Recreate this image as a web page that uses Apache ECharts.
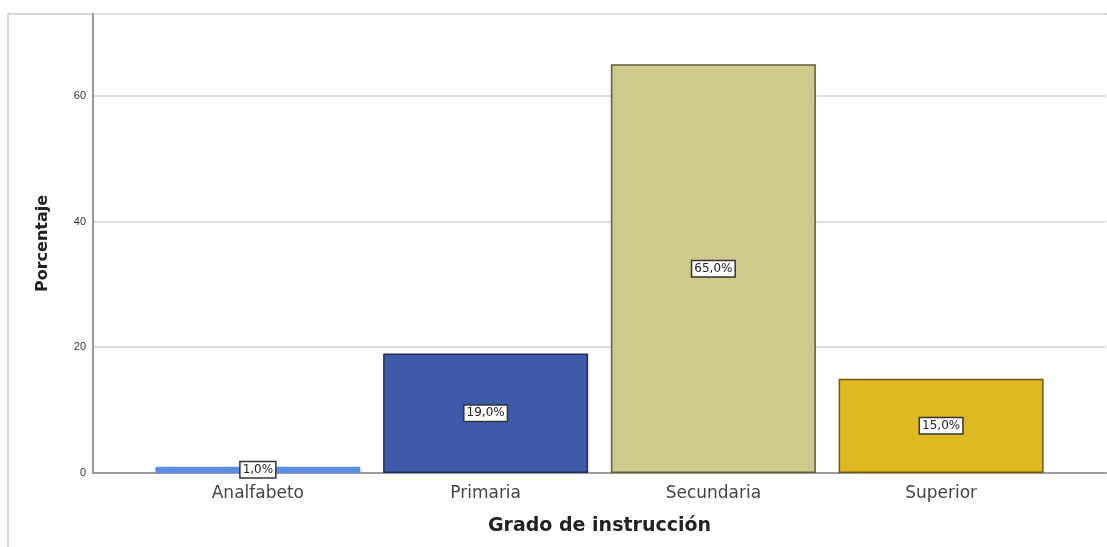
<!DOCTYPE html>
<html>
<head>
<meta charset="utf-8">
<script src="https://cdn.jsdelivr.net/npm/echarts@6/dist/echarts.min.js"></script>
<style>
  html, body { margin: 0; padding: 0; background: #ffffff; }
  #chart { width: 1107px; height: 547px; }
</style>
</head>
<body>
<div id="chart"></div>
<script>
// Grado de instrucción – porcentaje por categoría
const categories = ['Analfabeto', 'Primaria', 'Secundaria', 'Superior'];
const percentages = [1.0, 19.0, 65.0, 15.0];
const barColors = ['#5b8ee0', '#3e5ba9', '#d0c98c', '#dfb921'];
const barBorders = ['#5b8ee0', '#1f2d58', '#5e5c3a', '#6e5a12'];
const yTicks = [0, 20, 40, 60];

const chart = echarts.init(document.getElementById('chart'), null, { renderer: 'canvas' });

const FONT = '"Liberation Sans", Arial, sans-serif';
const WIDE = '"DejaVu Sans", Verdana, sans-serif';
const TOP = 14, BOTTOM = 74, YMAX = 73;

chart.setOption({
  animation: false,
  backgroundColor: '#ffffff',
  graphic: [
    { type: 'line', shape: { x1: 8, y1: 14, x2: 8, y2: 547 }, style: { stroke: '#d6d6d6', lineWidth: 2 }, silent: true },
    { type: 'line', shape: { x1: 8, y1: 14, x2: 1107, y2: 14 }, style: { stroke: '#d6d6d6', lineWidth: 2 }, silent: true }
  ],
  grid: [
    { left: 93, right: 1, top: TOP, bottom: BOTTOM },
    { left: 144, right: 52, top: TOP, bottom: BOTTOM }
  ],
  xAxis: [
    {
      gridIndex: 0, type: 'value', min: 0, max: 1,
      axisLine: { show: true, onZero: false, lineStyle: { color: '#9a9a9a', width: 2 } },
      axisTick: { show: false }, axisLabel: { show: false }, splitLine: { show: false }
    },
    {
      gridIndex: 1, type: 'category', data: categories,
      axisLine: { show: false }, axisTick: { show: false },
      axisLabel: { fontFamily: WIDE, fontSize: 17, color: '#444', margin: 12 },
      name: 'Grado de instrucción', nameLocation: 'middle', nameGap: 44,
      nameTextStyle: { fontFamily: WIDE, fontSize: 19, fontWeight: 'bold', color: '#222' }
    }
  ],
  yAxis: [
    {
      gridIndex: 0, type: 'value', min: 0, max: YMAX, interval: 20,
      axisLine: { show: true, lineStyle: { color: '#9a9a9a', width: 2 } },
      axisTick: { show: false },
      axisLabel: {
        fontFamily: FONT, fontSize: 11, color: '#333', margin: 7,
        formatter: v => (yTicks.indexOf(v) >= 0 ? String(v) : '')
      },
      splitLine: { show: true, lineStyle: { color: '#dcdcdc', width: 2 } },
      name: 'Porcentaje', nameLocation: 'middle', nameGap: 42, nameRotate: 90,
      nameTextStyle: { fontFamily: WIDE, fontSize: 16, fontWeight: 'bold', color: '#222' }
    },
    {
      gridIndex: 1, type: 'value', min: 0, max: YMAX, interval: 20, show: false
    }
  ],
  series: [{
    type: 'bar',
    xAxisIndex: 1, yAxisIndex: 1,
    barWidth: 205,
    data: percentages.map((v, i) => ({
      value: v,
      itemStyle: { color: barColors[i], borderColor: barBorders[i], borderWidth: i === 0 ? 0 : 1.5 }
    })),
    label: {
      show: true, position: 'inside',
      formatter: p => p.value.toFixed(1).replace('.', ',') + '%',
      fontFamily: WIDE, fontSize: 12, color: '#222',
      backgroundColor: '#ffffff', borderColor: '#333', borderWidth: 1.5,
      padding: [2, 2, 1, 2]
    }
  }]
});
</script>
</body>
</html>
